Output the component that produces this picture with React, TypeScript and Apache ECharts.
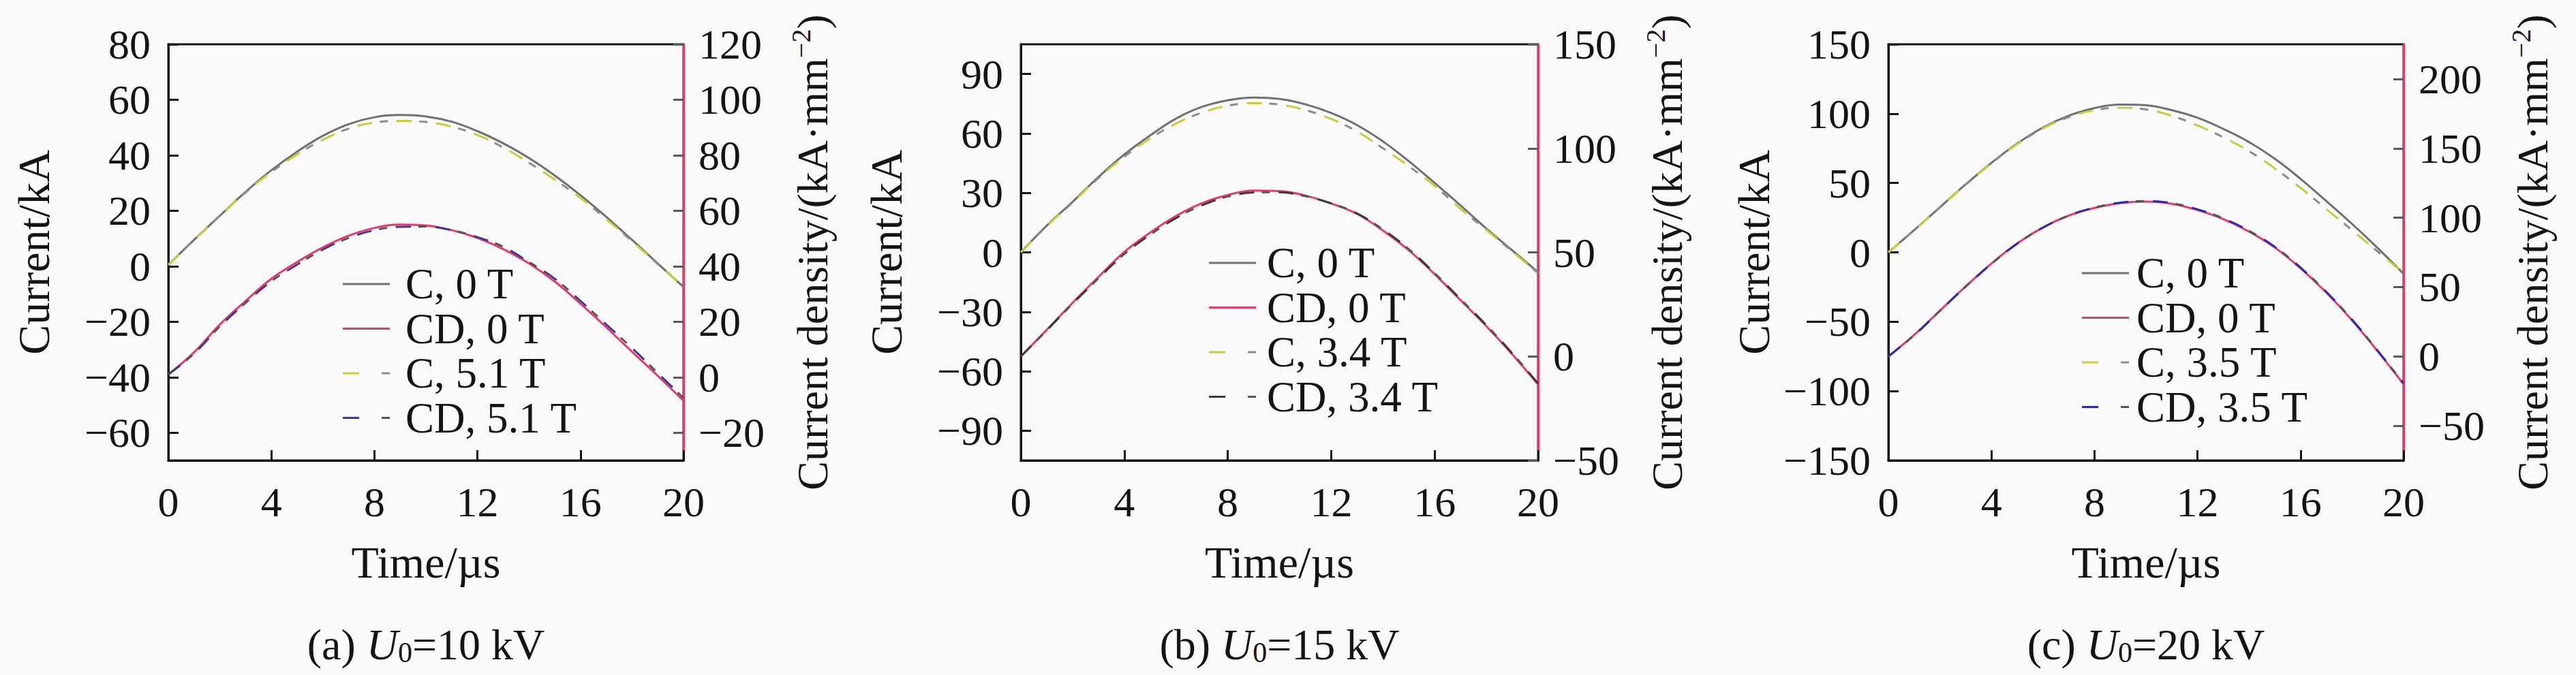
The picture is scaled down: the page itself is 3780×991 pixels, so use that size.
import { useEffect, useRef } from "react";
import * as echarts from "echarts";

// time axis, µs
const time = [0, 1, 2, 3, 4, 5, 6, 7, 8, 9, 10, 11, 12, 13, 14, 15, 16, 17, 18, 19, 20];

// (a) U0 = 10 kV : current (kA) and current density (kA·mm^-2)
const currentA0 = [0.5, 9.5, 18.2, 26.8, 34.6, 41.3, 47, 51.2, 53.7, 54.5, 54, 52.1, 48.7, 44.3, 39, 32.7, 25.6, 17.8, 9.5, 1, -7.5];
const currentA51 = [0.5, 9.5, 18.2, 26.6, 34, 40.3, 45.6, 49.6, 51.8, 52.4, 52, 50.3, 47.3, 42.8, 37.3, 31.2, 24.6, 17, 9, 0.8, -7.5];
const densityA0 = [1, 9, 19, 27.5, 35.5, 41.5, 46.8, 51, 53.8, 55, 54.7, 53, 50.2, 46.2, 41, 34.5, 26.5, 18, 9.2, 0.5, -8.5];
const densityA51 = [1, 8.5, 18.3, 26.8, 34.6, 40.6, 46, 50.2, 53, 54.2, 54.3, 53, 50.5, 47, 41.5, 35.5, 27.5, 19, 10.5, 1.5, -7.5];

// (b) U0 = 15 kV
const currentB0 = [0, 13.5, 25.5, 38, 49.4, 59, 67.5, 73.4, 76.7, 78.1, 77.4, 74.7, 70.3, 64.2, 56, 46, 35, 23.7, 12, 1, -10];
const currentB34 = [0, 13.3, 25.2, 37.5, 48.3, 57.5, 65, 70.5, 74, 75.3, 74.6, 71.8, 67.3, 61, 52.5, 43.5, 33.5, 22, 11.3, 0.5, -10.5];
const densityB0 = [0, 12.8, 25.8, 38.2, 50.2, 59.5, 67.5, 73.6, 77.6, 79.7, 79.5, 77.3, 73.5, 68.5, 60.5, 51, 39.5, 27, 14.5, 1, -13.5];
const densityB34 = [0, 12.5, 25.3, 37.5, 49.2, 58.5, 66.5, 72.6, 76.8, 78.8, 78.9, 77, 73.5, 68.7, 61, 51.5, 40, 27.5, 15, 1.5, -13];

// (c) U0 = 20 kV
const currentC0 = [0, 16, 32.5, 49, 64.5, 78.5, 90, 98.5, 104, 106.5, 106, 102.5, 97, 89, 79.5, 67.5, 53, 37, 20.5, 3, -15.5];
const currentC35 = [0, 16, 32.5, 48.8, 64.2, 78, 89.3, 97.5, 102.5, 104.2, 103, 98.5, 91.5, 83, 73, 60.5, 46.5, 31.3, 16, 0.5, -15];
const densityC0 = [0, 15.5, 33, 50.5, 67, 81.5, 93, 101.5, 107, 110.5, 111.6, 110, 105.5, 99, 90, 78.5, 63.5, 46, 26, 3.5, -20];
const densityC35 = [0, 15.2, 32.8, 50.3, 66.7, 81.2, 92.8, 101.5, 107.3, 110.8, 112, 110.5, 106, 99.5, 90.5, 79, 64, 46.5, 26.5, 4, -19.5];

// tick labels
const xTicks = [0, 4, 8, 12, 16, 20];
const leftTicksA = [-60, -40, -20, 0, 20, 40, 60, 80];
const rightTicksA = [-20, 0, 20, 40, 60, 80, 100, 120];
const leftTicksB = [-90, -60, -30, 0, 30, 60, 90];
const rightTicksB = [-50, 0, 50, 100, 150];
const leftTicksC = [-150, -100, -50, 0, 50, 100, 150];
const rightTicksC = [-50, 0, 50, 100, 150, 200];

const fieldLabels = ["5.1 T", "3.4 T", "3.5 T"];
const panelTags = ["(a) ", "(b) ", "(c) "];
const voltages = ["=10 kV", "=15 kV", "=20 kV"];

const FONT = "'Liberation Serif', 'Times New Roman', serif";
const INK = "#141414";
const GREY = "#707070";
const PINK = "#e8386c";
const YELLOW = "#c9cc3a";

const panels = [
  {
    c0: currentA0, cB: currentA51, d0: densityA0, dB: densityA51,
    left: [-70, 80], right: [-30, 120], leftTicks: leftTicksA, rightTicks: rightTicksA,
    cdColor: "#3b3b8c", gridLeft: 247, gridWidth: 756, legendX: 503, legendTextX: 595, legendY: 417,
  },
  {
    c0: currentB0, cB: currentB34, d0: densityB0, dB: densityB34,
    left: [-105, 105], right: [-50, 150], leftTicks: leftTicksB, rightTicks: rightTicksB,
    cdColor: "#3a3a3a", gridLeft: 1498, gridWidth: 759, legendX: 1774, legendTextX: 1859, legendY: 386,
  },
  {
    c0: currentC0, cB: currentC35, d0: densityC0, dB: densityC35,
    left: [-150, 150], right: [-75, 225], leftTicks: leftTicksC, rightTicks: rightTicksC,
    cdColor: "#2a2ab4", gridLeft: 2771, gridWidth: 756, legendX: 3055, legendTextX: 3135, legendY: 401,
  },
];

const GRID_TOP = 65;
const GRID_HEIGHT = 611;

const minus = (v: number) => String(v).replace("-", "\u2212");
const pairs = (ys: number[]) => time.map((t, i) => [t, ys[i]]);

function buildOption() {
  const grid: any[] = [];
  const xAxis: any[] = [];
  const yAxis: any[] = [];
  const series: any[] = [];
  const graphic: any[] = [];

  panels.forEach((p, i) => {
    grid.push({
      left: p.gridLeft,
      top: GRID_TOP,
      width: p.gridWidth,
      height: GRID_HEIGHT,
      show: true,
      borderColor: INK,
      borderWidth: 3,
      backgroundColor: "transparent",
    });

    xAxis.push({
      type: "value",
      gridIndex: i,
      min: 0,
      max: 20,
      interval: 4,
      name: "Time/µs",
      nameLocation: "middle",
      nameGap: 116,
      nameTextStyle: { fontFamily: FONT, fontSize: 66, color: INK },
      axisLine: { onZero: false, lineStyle: { color: INK, width: 3 } },
      axisTick: { inside: true, length: 15, lineStyle: { color: INK, width: 3 } },
      axisLabel: { customValues: xTicks, margin: 30, fontFamily: FONT, fontSize: 62, color: INK },
      splitLine: { show: false },
    });

    yAxis.push({
      type: "value",
      gridIndex: i,
      position: "left",
      min: p.left[0],
      max: p.left[1],
      name: "Current/kA",
      nameLocation: "middle",
      nameRotate: 90,
      nameGap: 165,
      nameTextStyle: { fontFamily: FONT, fontSize: 66, color: INK },
      axisLine: { show: true, onZero: false, lineStyle: { color: INK, width: 3 } },
      axisTick: { inside: true, length: 15, customValues: p.leftTicks, lineStyle: { color: INK, width: 3 } },
      axisLabel: { customValues: p.leftTicks, margin: 26, fontFamily: FONT, fontSize: 62, color: INK, formatter: minus },
      splitLine: { show: false },
    });

    yAxis.push({
      type: "value",
      gridIndex: i,
      position: "right",
      min: p.right[0],
      max: p.right[1],
      name: "{n|Current density/(kA·mm}{s|\u22122}{n|)}",
      nameLocation: "middle",
      nameRotate: 90,
      nameGap: 152,
      nameTextStyle: {
        fontFamily: FONT,
        fontSize: 64,
        color: INK,
        rich: {
          n: { fontFamily: FONT, fontSize: 64, color: INK, lineHeight: 74, verticalAlign: "middle" },
          s: { fontFamily: FONT, fontSize: 40, color: INK, lineHeight: 40, verticalAlign: "top" },
        },
      },
      axisLine: { show: true, onZero: false, lineStyle: { color: PINK, width: 3 } },
      axisTick: { inside: true, length: 15, customValues: p.rightTicks, lineStyle: { color: "#5a5a5a", width: 3 } },
      axisLabel: { customValues: p.rightTicks, margin: 22, fontFamily: FONT, fontSize: 62, color: INK, formatter: minus },
      splitLine: { show: false },
    });

    const base = { type: "line", xAxisIndex: i, symbol: "none", smooth: 0.4, silent: true };
    const yl = 2 * i;
    const yr = 2 * i + 1;
    const field = fieldLabels[i];

    series.push(
      { ...base, name: "C, 0 T", yAxisIndex: yl, data: pairs(p.c0), lineStyle: { color: GREY, width: 3 } },
      { ...base, name: "CD, 0 T", yAxisIndex: yr, data: pairs(p.d0), lineStyle: { color: PINK, width: 3 } },
      { ...base, name: `C, ${field}`, yAxisIndex: yl, data: pairs(p.cB), lineStyle: { color: YELLOW, width: 3, type: [22, 36] } },
      { ...base, name: `C, ${field} grey`, yAxisIndex: yl, data: pairs(p.cB), lineStyle: { color: "#8c8c8c", width: 3, type: [12, 46], dashOffset: 25 } },
      { ...base, name: `CD, ${field}`, yAxisIndex: yr, data: pairs(p.dB), lineStyle: { color: p.cdColor, width: 3, type: [22, 36] } },
      { ...base, name: `CD, ${field} grey`, yAxisIndex: yr, data: pairs(p.dB), lineStyle: { color: "#555555", width: 3, type: [12, 46], dashOffset: 25 } },
    );

    // legend drawn by hand to get the two-tone dashes
    const labels = ["C, 0 T", "CD, 0 T", `C, ${field}`, `CD, ${field}`];
    labels.forEach((label, r) => {
      const y = p.legendY + r * 65.5;
      const x0 = p.legendX;
      if (r === 0) {
        graphic.push({ type: "line", shape: { x1: x0, y1: y, x2: x0 + 69, y2: y }, style: { stroke: GREY, lineWidth: 3 } });
      } else if (r === 1) {
        graphic.push({ type: "line", shape: { x1: x0, y1: y, x2: x0 + 69, y2: y }, style: { stroke: PINK, lineWidth: 3 } });
      } else {
        const c = r === 2 ? YELLOW : p.cdColor;
        const g = r === 2 ? "#8c8c8c" : "#555555";
        graphic.push({ type: "line", shape: { x1: x0, y1: y, x2: x0 + 24, y2: y }, style: { stroke: c, lineWidth: 3 } });
        graphic.push({ type: "line", shape: { x1: x0 + 57, y1: y, x2: x0 + 69, y2: y }, style: { stroke: g, lineWidth: 3 } });
      }
      graphic.push({
        type: "text",
        x: p.legendTextX,
        y,
        style: { text: label, fontFamily: FONT, fontSize: 63, fill: INK, verticalAlign: "middle", align: "left" },
      });
    });

    // caption
    graphic.push({
      type: "text",
      x: p.gridLeft + p.gridWidth / 2,
      y: 946,
      style: {
        text: `{n|${panelTags[i]}}{i|U}{s|0}{n|${voltages[i]}}`,
        align: "center",
        verticalAlign: "middle",
        rich: {
          n: { fontFamily: FONT, fontSize: 64, fill: INK, lineHeight: 66, verticalAlign: "middle" },
          i: { fontFamily: FONT, fontSize: 64, fontStyle: "italic", fill: INK, lineHeight: 66, verticalAlign: "middle" },
          s: { fontFamily: FONT, fontSize: 42, fill: INK, lineHeight: 40, verticalAlign: "bottom" },
        },
      },
    });
  });

  return {
    animation: false,
    backgroundColor: "#f9f9f9",
    textStyle: { fontFamily: FONT },
    grid,
    xAxis,
    yAxis,
    series,
    graphic,
  };
}

export default function App() {
  const ref = useRef<HTMLDivElement>(null);

  useEffect(() => {
    document.body.style.margin = "0";
    if (!ref.current) return;
    const chart = echarts.init(ref.current, undefined, { renderer: "svg" });
    chart.setOption(buildOption());
    return () => chart.dispose();
  }, []);

  return <div ref={ref} style={{ width: "3780px", height: "991px" }} />;
}
